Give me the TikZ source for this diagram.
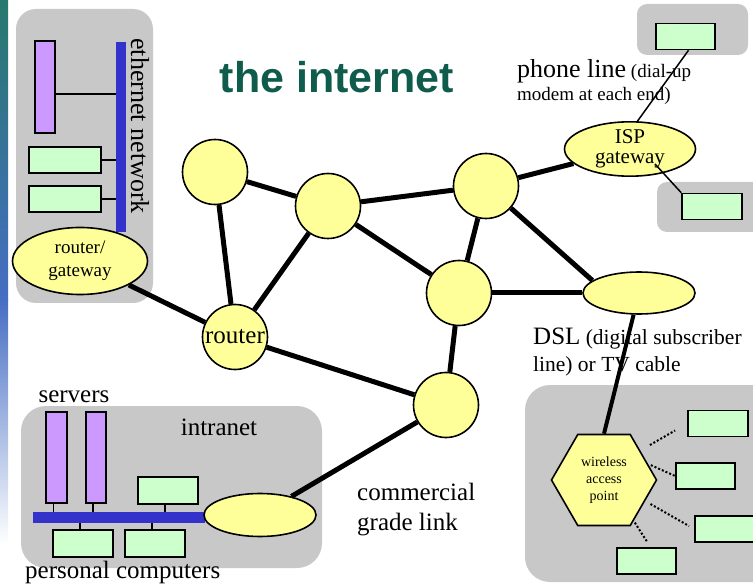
\documentclass[tikz,border=0pt]{standalone}
\usepackage{fontspec}
\setmainfont{Liberation Serif}
\newfontfamily\headfont{Liberation Sans}
\usepackage{tikz}
\usetikzlibrary{shapes.geometric,calc}
\definecolor{boxgray}{RGB}{200,200,200}
\definecolor{nodeyellow}{RGB}{255,255,153}
\definecolor{pcgreen}{RGB}{204,255,204}
\definecolor{srvpurple}{RGB}{204,153,255}
\definecolor{lanblue}{RGB}{51,51,204}
\definecolor{headgreen}{RGB}{16,92,76}
\definecolor{stripteal}{RGB}{40,120,110}
\definecolor{stripblue}{RGB}{70,110,195}
\definecolor{striplight}{RGB}{170,200,225}
\newcommand{\fs}[1]{\fontsize{#1}{#1}\selectfont}

\begin{document}
\begin{tikzpicture}
[x=1pt,y=-1pt,
hop/.style={circle,draw,fill=nodeyellow,line width=1.6pt,minimum size=65pt,inner sep=0pt,font=\fs{25}},
gw/.style={ellipse,draw,fill=nodeyellow,line width=1.6pt,inner sep=0pt,align=center},
pc/.style={draw,fill=pcgreen,line width=1.6pt,minimum width=59pt,minimum height=26pt,inner sep=0pt},
srv/.style={draw,fill=srvpurple,line width=1.6pt,minimum width=20pt,minimum height=91pt,inner sep=0pt},
bus/.style={fill=lanblue,inner sep=0pt},
link/.style={line width=5pt},
tap/.style={line width=1.5pt},
wifi/.style={dotted,line width=2pt},
zone/.style={fill=boxgray,rounded corners=20pt},
lbl/.style={inner sep=0pt,font=\fs{25}}]
\useasboundingbox (0,0) rectangle (753,588);
\clip (0,0) rectangle (753,588);

% slide edge
\shade[top color=stripteal,bottom color=stripblue] (0,0) rectangle (8,300);
\shade[top color=stripblue,middle color=striplight,bottom color=white] (0,300) rectangle (8,545);

% grey areas
\fill[zone] (16,9) rectangle (153,303);
\fill[zone,rounded corners=10pt] (637,4) rectangle (748,55);
\fill[zone,rounded corners=10pt] (657,182) rectangle (770,232);
\fill[zone,rounded corners=25pt] (525,385) rectangle (780,582);
\fill[zone,rounded corners=25pt] (21,406) rectangle (322,568);

\node (title) at (337,93) [anchor=base,inner sep=0pt,font=\headfont\bfseries\fs{43},text=headgreen] {the internet};

% ethernet network
\node (ethsrv) at (45,87) [srv,minimum height=92pt] {};
\node (ethpc1) at (65,160) [pc,minimum width=72pt] {};
\node (ethpc2) at (65,199) [pc,minimum width=72pt] {};
\draw[tap] ([yshift=-7pt]ethsrv.east) -- ([yshift=-7pt]ethsrv.east -| 120,0);
\draw[tap] (ethpc1.east) -- (ethpc1.east -| 120,0);
\draw[tap] (ethpc2.east) -- (ethpc2.east -| 120,0);
\node (ethbus) at (121,137) [bus,minimum width=10pt,minimum height=190pt] {};
\node (ethlbl) at (140,126) [lbl,rotate=-90,font=\fs{26}] {ethernet network};
\node (ethgw) at (80,261) [gw,minimum width=135pt,minimum height=67pt,font=\fontsize{19}{23}\selectfont] {router/\\gateway};

% core
\node (h1) at (215,172) [hop] {};
\node (h2) at (328,206) [hop] {};
\node (h3) at (486,186) [hop] {};
\node (h4) at (459,293) [hop] {};
\node (rtr) at (235,337) [hop] {router};
\node (h6) at (446,405) [hop] {};

% phone line
\node (dialpc) at (685.5,36.5) [pc] {};
\node (dialpc2) at (712,206.5) [pc,minimum width=60pt] {};
\node (phonelbl) at (517,59) [anchor=north west,inner sep=0pt,align=left,font=\fontsize{19}{23}\selectfont] {{\fs{26}phone line} (dial-up\\modem at each end)};
\node (isp) at (630,149) [gw,minimum width=131pt,minimum height=48pt,font=\fontsize{21}{20}\selectfont] {ISP\\gateway};
\draw[tap] ([xshift=3pt]dialpc.south) -- (isp.75);
\draw[tap] (dialpc2.north west) -- ($(isp)+(25,15)$);

% DSL and wireless
\node (dsl) at (639,293) [gw,minimum width=112pt,minimum height=42pt] {};
\node (dsllbl) at (533,328) [anchor=north west,inner sep=0pt,align=left,font=\fontsize{21.5}{27}\selectfont] {{\fs{25}DSL} (digital subscriber\\line) or TV cable};
\node (wap) at (604,480) [regular polygon,regular polygon sides=6,draw,fill=nodeyellow,line width=1.6pt,minimum size=105pt,inner sep=0pt,align=center,font=\fontsize{14}{17}\selectfont] {wireless\\access\\point};
\node (wpc1) at (718,423.5) [pc,minimum width=60pt] {};
\node (wpc2) at (705.5,476) [pc] {};
\node (wpc3) at (725,529) [pc,minimum width=60pt] {};
\node (wpc4) at (646.5,561) [pc] {};
\draw[wifi,shorten <=11pt,shorten >=14pt] (wap.39) -- (wpc1.west);
\draw[wifi,shorten <=3pt] (wap.20) -- (wpc2.west);
\draw[wifi,shorten <=6pt,shorten >=6pt] (wap.-27) -- (wpc3.west);
\draw[wifi,shorten <=2pt,shorten >=6pt] (wap.-54) -- ([xshift=4pt]wpc4.north);
\draw[link,line width=4pt] (dsl) -- (wap.north);

% intranet
\node (lansrv1) at (56.5,457.5) [srv,minimum width=21pt] {};
\node (lansrv2) at (96,457.5) [srv] {};
\node (lanpc1) at (168,490.5) [pc,minimum width=60pt,minimum height=27pt] {};
\node (lanpc2) at (83,543.5) [pc,minimum width=60pt,minimum height=27pt] {};
\node (lanpc3) at (155,543.5) [pc,minimum width=60pt,minimum height=27pt] {};
\node (lanbus) at (119,517.5) [bus,minimum width=172pt,minimum height=11pt] {};
\draw[tap] ([xshift=-3pt]lansrv1.south) -- ([xshift=-3pt]lansrv1.south |- lanbus.north);
\draw[tap] ([xshift=-3pt]lansrv2.south) -- ([xshift=-3pt]lansrv2.south |- lanbus.north);
\draw[tap] ([xshift=-3pt]lanpc1.south) -- ([xshift=-3pt]lanpc1.south |- lanbus.north);
\draw[tap] ([xshift=-3pt]lanpc2.north) -- ([xshift=-3pt]lanpc2.north |- lanbus.south);
\draw[tap] ([xshift=-3pt]lanpc3.north) -- ([xshift=-3pt]lanpc3.north |- lanbus.south);
\node (langw) at (260,515) [gw,minimum width=112pt,minimum height=43pt] {};
\node (srvlbl) at (74,397) [lbl] {servers};
\node (lanlbl) at (219,435) [lbl,anchor=base] {intranet};
\node (pclbl) at (25,578) [lbl,anchor=base west] {personal computers};
\node (commlbl) at (357,483) [lbl,anchor=north west,align=left,font=\fontsize{25}{30}\selectfont] {commercial\\grade link};

% links
\draw[link] (ethgw) -- (rtr);
\draw[link] (h1) -- (h2);
\draw[link] (h1) -- (rtr);
\draw[link] (h2) -- (rtr);
\draw[link] (h2) -- (h3);
\draw[link] (h2) -- (h4);
\draw[link] (h3) -- (h4);
\draw[link] (h3) -- (isp);
\draw[link] (h3) -- (dsl.165);
\draw[link] (h4) -- (dsl);
\draw[link] (h4) -- (h6);
\draw[link] (rtr) -- (h6);
\draw[link] (h6) -- (langw);

\end{tikzpicture}
\end{document}
